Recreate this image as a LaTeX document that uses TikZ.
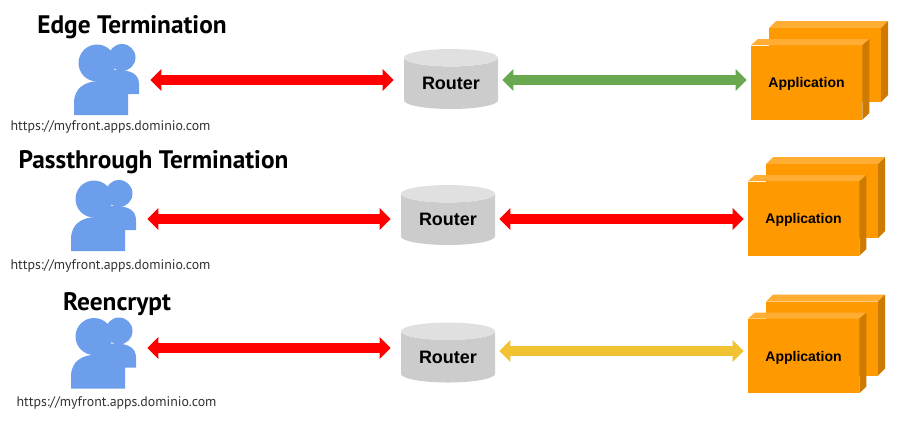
\documentclass[tikz,border=0pt]{standalone}
\usepackage{xcolor}
\usepackage{fontspec}
\setmainfont{Liberation Sans}
\newfontfamily\titlefont{PT Sans}
\usetikzlibrary{shapes.geometric, arrows.meta, positioning}
\definecolor{userblue}{HTML}{6D9EEB}
\definecolor{routerbody}{HTML}{CCCCCC}
\definecolor{routertop}{HTML}{E0E0E0}
\definecolor{appfront}{HTML}{FF9900}
\definecolor{apptop}{HTML}{FFAD33}
\definecolor{appside}{HTML}{CC7A00}
\definecolor{linkgreen}{HTML}{6AA84F}
\definecolor{linkyellow}{HTML}{F1C232}

\begin{document}
\begin{tikzpicture}[
    x=0.75pt, y=-0.75pt,
    heading/.style={font=\titlefont\bfseries\fontsize{19}{20}\selectfont, inner sep=0pt},
    urltext/.style={font=\titlefont\fontsize{10.4}{12}\selectfont, text=black!80, inner sep=0pt},
    usernode/.style={minimum width=48.75pt, minimum height=53.25pt, inner sep=0pt},
    routernode/.style={cylinder, shape border rotate=90, shape aspect=0.3, minimum width=70.5pt, minimum height=45pt,
        inner sep=0pt, cylinder uses custom fill, cylinder body fill=routerbody, cylinder end fill=routertop,
        font=\bfseries\fontsize{13.5}{15}\selectfont},
    appnode/.style={rectangle, fill=appfront, minimum width=83.25pt, minimum height=55.5pt, inner sep=0pt,
        text depth=0pt, font=\bfseries\fontsize{10.5}{12}\selectfont},
    link/.style={draw=#1, line width=7.2pt, {Triangle[length=8.25pt,width=15.75pt]}-{Triangle[length=8.25pt,width=15.75pt]}},
]

\useasboundingbox (0,0) rectangle (897,429);

% One row per termination type
\foreach \i/\dx/\dy/\ya/\yb/\col in {1/0/0/0.5/-3.5/linkgreen, 2/-3/136/3.5/-0.5/red, 3/-3/273.5/-5/-6/linkyellow} {
    % Back application box
    \begin{scope}[shift={(\dx,\dy)}]
        \fill[apptop] (769,28) -- (776,21) -- (888,21) -- (881,28) -- cycle;
        \fill[appside] (881,28) -- (888,21) -- (888,95) -- (881,102) -- cycle;
        \fill[appfront] (769,28) rectangle (881,102);
        % User figure
        \fill[userblue] (97,63) circle (18.5);
        \fill[userblue] (122,57.5) circle (13.5);
        \fill[userblue] (74,115) -- (74,103) .. controls (74,88) and (85,81) .. (100,81) -- (105,70)
            -- (118,70) .. controls (132,70) and (139,75) .. (139,84) -- (139,94) -- (128,94) -- (128,115) -- cycle;
    \end{scope}
    \node[usernode] (user\i) at (106.5+\dx,79.5+\dy) {};
    \node[routernode] (router\i) at (451+\dx,83.5+\dy) {Router};
    \node[appnode] (app\i) at (806.5+\dx,82.5+\dy) {Application};
    \fill[apptop] (app\i.north west) -- ++(7,-6) -- ++(111,0) -- (app\i.north east) -- cycle;
    \fill[appside] (app\i.north east) -- ++(7,-6) -- ++(0,74) -- (app\i.south east) -- cycle;
    \draw[link=red, shorten <=8.25pt, shorten >=7.5pt] ([shift={(0,\ya)}]user\i.east) -- ([shift={(0,\ya)}]user\i.east -| router\i.west);
    \draw[link=\col, shorten <=3pt, shorten >=3pt] ([shift={(0,\yb)}]router\i.east) -- ([shift={(0,\yb)}]router\i.east -| app\i.west);
}

\node[heading] (title1) at (132,27.5) {Edge Termination};
\node[heading] (title2) at (153.5,162.5) {Passthrough Termination};
\node[heading] (title3) at (117,304.5) {Reencrypt};

\node[urltext] (url1) at (110.5,127) {https://myfront.apps.dominio.com};
\node[urltext] (url2) at (110.5,265.5) {https://myfront.apps.dominio.com};
\node[urltext] (url3) at (116.5,402.5) {https://myfront.apps.dominio.com};

\end{tikzpicture}
\end{document}
